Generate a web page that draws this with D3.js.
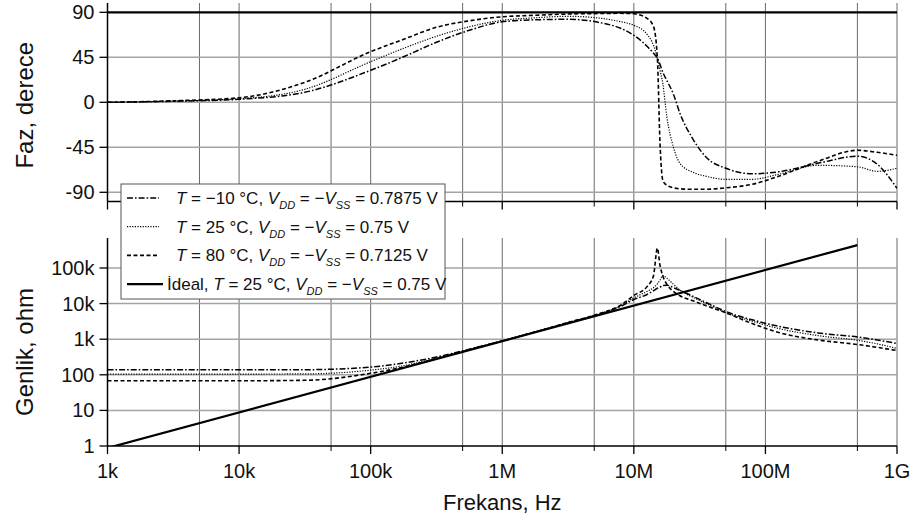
<!DOCTYPE html>
<html><head><meta charset="utf-8">
<script src="https://cdn.jsdelivr.net/npm/d3@7"></script>
<style>
html,body{margin:0;padding:0;background:#fff;}
svg{display:block;font-family:"Liberation Sans",Arial,sans-serif;}
</style></head>
<body>
<svg id="chart" width="913" height="526"></svg>
<script>
// ---- data ----
const freqHz = [1e3, 3.16e3, 1e4, 3.16e4, 1e5, 1.78e5, 3.16e5, 5.62e5, 1e6, 1.78e6, 3.16e6, 5.62e6, 7.94e6, 1e7, 1.26e7, 1.41e7, 1.51e7, 1.58e7, 1.66e7, 1.78e7, 2e7, 2.24e7, 2.82e7, 3.55e7, 5.01e7, 7.94e7, 1.26e8, 2.51e8, 5.01e8, 7.08e8, 1e9];

const phaseM10 = [0, 1, 3, 10, 32, 45.5, 60, 72, 80.5, 82.5, 83, 79.5, 74, 67, 56, 49, 44, 38, 30, 22, 8, -11, -37, -55, -66, -71.5, -69.5, -61, -54, -62, -86];
const phase25  = [0, 1.2, 3.5, 13, 40.6, 54, 66, 75.5, 82, 84.5, 86, 84, 80.6, 77, 68, 57, 44, 32, 19, -14, -45, -61, -70, -74, -77, -77, -72, -63, -64.5, -69, -66];
const phase80  = [0, 1.5, 4.5, 20, 50.6, 63, 75, 81.5, 85.5, 87, 88.3, 88.8, 89, 88.5, 84, 76, 44, -40, -78, -83, -85.5, -86.5, -87, -87, -85.5, -82, -74, -59, -48, -50, -53];

const magM10 = [138, 138, 138, 139, 165, 215, 315, 525, 900, 1600, 2900, 5200, 8300, 13000, 18000, 23000, 27000, 29000, 32000, 33000, 28000, 23500, 16000, 10700, 6000, 3500, 2300, 1500, 1150, 950, 760];
const mag25  = [105, 105, 105, 106, 135, 180, 295, 510, 890, 1600, 2900, 5300, 8700, 14500, 22000, 28000, 36000, 45000, 62000, 52000, 35000, 24000, 15000, 10000, 5600, 3200, 2000, 1260, 930, 740, 550];
const mag80  = [68, 68, 68, 70, 110, 165, 285, 505, 890, 1600, 2950, 5400, 9000, 17000, 30000, 60000, 360000, 120000, 60000, 35000, 22000, 16600, 12000, 8700, 5500, 2750, 1550, 950, 710, 590, 480];

const idealPhaseFreq = [1e3, 1e9];
const idealPhase = [90, 90];
const idealMagFreq = [1e3, 5e8];
const idealMag = [0.88, 440000];

const xTickValues = [1e3, 1e4, 1e5, 1e6, 1e7, 1e8, 1e9];
const xTickLabels = ["1k", "10k", "100k", "1M", "10M", "100M", "1G"];
const xMinorValues = [5e3, 5e4, 5e5, 5e6, 5e7, 5e8];
const phaseTicks = [90, 45, 0, -45, -90];
const magTickValues = [1, 10, 100, 1e3, 1e4, 1e5];
const magTickLabels = ["1", "10", "100", "1k", "10k", "100k"];

const seriesNames = ["T = \u221210 \u00B0C", "T = 25 \u00B0C", "T = 80 \u00B0C", "\u0130deal"];
const seriesVolt = ["0.7875 V", "0.75 V", "0.7125 V", "0.75 V"];

// ---- layout ----
const svg = d3.select("#chart");
const X0 = 107.5, X1 = 897;
const topY = [201.5, 3], botY = [446, 238];
const x = d3.scaleLog().domain([1e3, 1e9]).range([X0, X1]);
const yP = d3.scaleLinear().domain([-99.2, 99.3]).range(topY);
const yM = d3.scaleLog().domain([1, Math.pow(10, (446 - 238) / 35.6)]).range(botY);

const styles = [
  {dash: "6,2,1.6,2", w: 1.5},
  {dash: "1.2,1.4", w: 1.2},
  {dash: "4,2.5", w: 1.6},
  {dash: null, w: 2.2}
];

const defs = svg.append("defs");
defs.append("clipPath").attr("id", "clipT").append("rect").attr("x", X0).attr("y", topY[1]).attr("width", X1 - X0).attr("height", topY[0] - topY[1]);
defs.append("clipPath").attr("id", "clipB").append("rect").attr("x", X0).attr("y", botY[1]).attr("width", X1 - X0).attr("height", botY[0] - botY[1]);

const gridV = xMinorValues.concat(xTickValues.slice(1, 6)).concat([1e9]);

function drawGrid(yScale, yRange, hVals) {
  const g = svg.append("g");
  g.selectAll("line.v").data(gridV).join("line")
    .attr("x1", d => x(d)).attr("x2", d => x(d))
    .attr("y1", yRange[1]).attr("y2", yRange[0])
    .attr("stroke", "#6a6a6a").attr("stroke-width", 1);
  g.selectAll("line.h").data(hVals).join("line")
    .attr("x1", X0).attr("x2", X1)
    .attr("y1", d => yScale(d)).attr("y2", d => yScale(d))
    .attr("stroke", "#a4a4a4").attr("stroke-width", 1.5);
}
drawGrid(yP, topY, [45, 0, -45, -90]);
drawGrid(yM, botY, [10, 100, 1e3, 1e4, 1e5]);

// ---- lines ----
function drawLine(clip, fr, vals, yScale, st) {
  const line = d3.line().x((d, i) => x(fr[i])).y(d => yScale(d)).curve(d3.curveMonotoneX);
  svg.append("path").attr("clip-path", `url(#${clip})`)
    .attr("d", line(vals)).attr("fill", "none").attr("stroke", "#000")
    .attr("stroke-width", st.w).attr("stroke-dasharray", st.dash);
}
[phaseM10, phase25, phase80].forEach((s, i) => drawLine("clipT", freqHz, s, yP, styles[i]));
drawLine("clipT", idealPhaseFreq, idealPhase, yP, styles[3]);
[magM10, mag25, mag80].forEach((s, i) => drawLine("clipB", freqHz, s, yM, styles[i]));
drawLine("clipB", idealMagFreq, idealMag, yM, styles[3]);

// ---- axes ----
function xAxis(yPos, showLabels) {
  const g = svg.append("g").attr("transform", `translate(0,${yPos})`);
  g.append("line").attr("x1", X0).attr("x2", X1).attr("stroke", "#000").attr("stroke-width", 1.5);
  g.selectAll("line.t").data(xTickValues).join("line")
    .attr("x1", d => x(d)).attr("x2", d => x(d)).attr("y1", 0).attr("y2", 8)
    .attr("stroke", "#000").attr("stroke-width", 1.3);
  g.selectAll("line.m").data(xMinorValues).join("line")
    .attr("x1", d => x(d)).attr("x2", d => x(d)).attr("y1", 0).attr("y2", 5)
    .attr("stroke", "#000").attr("stroke-width", 1);
  if (showLabels) {
    g.selectAll("text").data(xTickValues).join("text")
      .attr("x", d => x(d)).attr("y", 32).attr("text-anchor", "middle")
      .attr("font-size", 20).attr("fill", "#111")
      .text((d, i) => xTickLabels[i]);
  }
}
function yAxis(yScale, yRange, vals, labels) {
  const g = svg.append("g");
  g.append("line").attr("x1", X0).attr("x2", X0).attr("y1", yRange[1]).attr("y2", yRange[0])
    .attr("stroke", "#000").attr("stroke-width", 1.5);
  g.selectAll("line.t").data(vals).join("line")
    .attr("x1", X0 - 8).attr("x2", X0).attr("y1", d => yScale(d)).attr("y2", d => yScale(d))
    .attr("stroke", "#000").attr("stroke-width", 1.3);
  g.selectAll("text").data(vals).join("text")
    .attr("x", X0 - 13).attr("y", d => yScale(d)).attr("dy", "0.35em")
    .attr("text-anchor", "end").attr("font-size", 20).attr("fill", "#111")
    .text((d, i) => labels[i]);
}
xAxis(topY[0], false);
xAxis(botY[0], true);
yAxis(yP, topY, phaseTicks, phaseTicks.map(String));
yAxis(yM, botY, magTickValues, magTickLabels);

svg.append("text").attr("transform", `translate(33,${(topY[0] + topY[1]) / 2 + 3}) rotate(-90)`)
  .attr("text-anchor", "middle").attr("font-size", 24).attr("fill", "#111").text("Faz, derece");
svg.append("text").attr("transform", `translate(33,${(botY[0] + botY[1]) / 2 + 10}) rotate(-90)`)
  .attr("text-anchor", "middle").attr("font-size", 24).attr("fill", "#111").text("Genlik, ohm");
svg.append("text").attr("x", (X0 + X1) / 2).attr("y", 510).attr("text-anchor", "middle")
  .attr("font-size", 22).attr("fill", "#111").text("Frekans, Hz");

// ---- legend ----
const lg = svg.append("g");
lg.append("rect").attr("x", 121).attr("y", 184).attr("width", 324).attr("height", 115)
  .attr("fill", "#fff").attr("stroke", "#555").attr("stroke-width", 1);
seriesNames.forEach((name, i) => {
  const by = 204 + i * 28.7;
  const cy = by - 6;
  lg.append("line").attr("x1", 127).attr("x2", i === 3 ? 163 : 159).attr("y1", cy).attr("y2", cy)
    .attr("stroke", "#000").attr("stroke-width", styles[i].w).attr("stroke-dasharray", styles[i].dash);
  const t = lg.append("text").attr("x", i === 3 ? 167 : 176).attr("y", by).attr("font-size", 17).attr("fill", "#111");
  let parts;
  if (i === 3) {
    parts = [{s: "\u0130deal, "}, {s: "T", it: true}, {s: " = 25 \u00B0C, "}];
  } else {
    const rest = name.slice(1);
    parts = [{s: "T", it: true}, {s: rest + ", "}];
  }
  parts = parts.concat([{s: "V", it: true}, {s: "DD", sub: true}, {s: " = \u2212", back: true},
    {s: "V", it: true}, {s: "SS", sub: true}, {s: " = " + seriesVolt[i], back: true}]);
  parts.forEach(p => {
    const ts = t.append("tspan").text(p.s);
    if (p.it) ts.attr("font-style", "italic");
    if (p.sub) ts.attr("font-style", "italic").attr("font-size", 11).attr("dy", 5);
    if (p.back) ts.attr("dy", -5);
  });
});
</script>
</body></html>
